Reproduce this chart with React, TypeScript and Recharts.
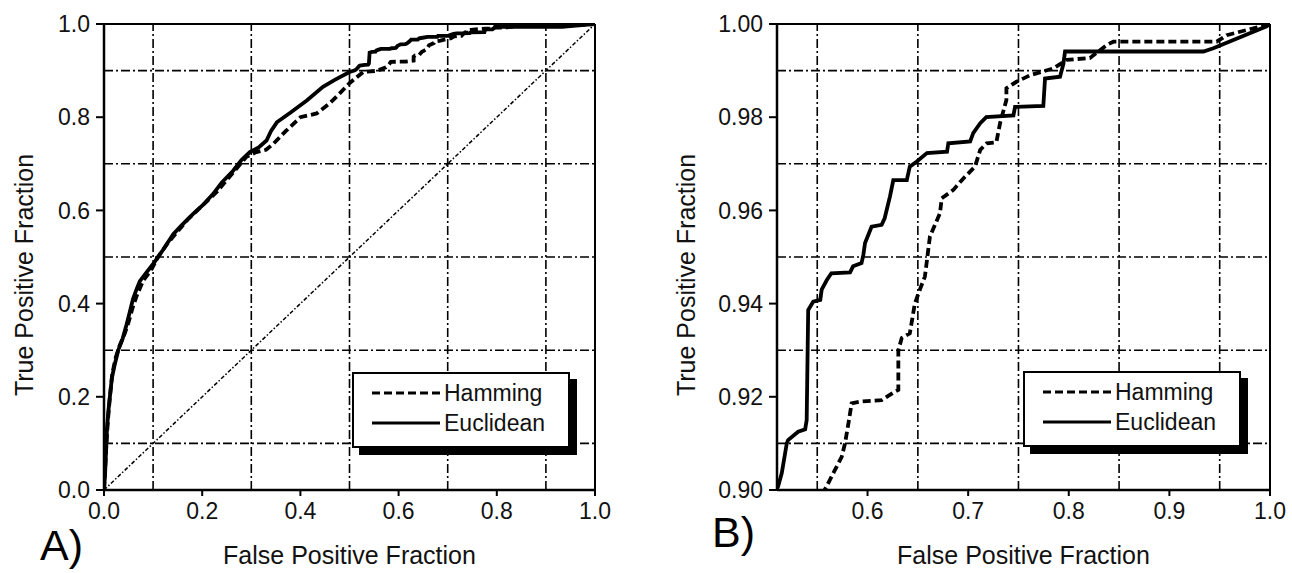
import React from "react"
import { LineChart, Line, XAxis, YAxis, ReferenceLine, Legend, Label } from "recharts"

const FONT = '"Liberation Sans", Arial, sans-serif'

// ROC points [false positive fraction, true positive fraction]
const euclidean: [number, number][] = [
  [0, 0], [0.002, 0.03], [0.004, 0.08], [0.006, 0.13], [0.009, 0.17], [0.012, 0.2], [0.016, 0.24],
  [0.022, 0.27], [0.029, 0.3], [0.038, 0.325], [0.046, 0.355], [0.052, 0.38], [0.059, 0.41],
  [0.066, 0.43], [0.073, 0.448], [0.085, 0.465], [0.1, 0.485], [0.12, 0.515], [0.141, 0.549],
  [0.16, 0.57], [0.181, 0.592], [0.2, 0.61], [0.222, 0.635], [0.24, 0.66], [0.263, 0.685],
  [0.28, 0.708], [0.297, 0.725], [0.315, 0.735], [0.331, 0.75], [0.34, 0.77], [0.352, 0.789],
  [0.38, 0.81], [0.413, 0.836], [0.446, 0.865], [0.47, 0.88], [0.5, 0.897],
  [0.511, 0.9007], [0.5147, 0.9036], [0.5197, 0.91], [0.521, 0.9107], [0.531, 0.9125], [0.538, 0.913],
  [0.5395, 0.915], [0.541, 0.9386], [0.546, 0.9404], [0.553, 0.9408], [0.5544, 0.943], [0.5594, 0.945],
  [0.564, 0.9465], [0.5826, 0.9467], [0.5856, 0.948], [0.594, 0.9487], [0.5958, 0.9504], [0.5975, 0.953],
  [0.604, 0.9565], [0.614, 0.9569], [0.617, 0.9583], [0.6223, 0.963], [0.6256, 0.9665], [0.639, 0.9665],
  [0.642, 0.9694], [0.649, 0.9705], [0.659, 0.9723], [0.679, 0.9726], [0.6803, 0.9744], [0.702, 0.9748],
  [0.705, 0.9766], [0.712, 0.9787], [0.718, 0.98], [0.745, 0.9804], [0.7466, 0.9822], [0.7747, 0.9824],
  [0.7764, 0.9883], [0.7913, 0.9887], [0.7946, 0.9914], [0.7963, 0.9941], [0.9338, 0.9941],
  [0.9437, 0.9948], [0.9967, 0.9995], [1, 1],
]

const hamming: [number, number][] = [
  [0, 0], [0.002, 0.04], [0.005, 0.1], [0.008, 0.15], [0.012, 0.2], [0.017, 0.25], [0.024, 0.285],
  [0.032, 0.31], [0.042, 0.335], [0.05, 0.36], [0.058, 0.39], [0.066, 0.415], [0.072, 0.43],
  [0.08, 0.45], [0.095, 0.47], [0.11, 0.5], [0.13, 0.53], [0.15, 0.555], [0.17, 0.58], [0.19, 0.6],
  [0.21, 0.62], [0.23, 0.64], [0.25, 0.665], [0.27, 0.69], [0.29, 0.715], [0.31, 0.725], [0.33, 0.73],
  [0.345, 0.743], [0.37, 0.77], [0.4, 0.8], [0.433, 0.808], [0.46, 0.83], [0.48, 0.851], [0.5, 0.873],
  [0.528, 0.897], [0.556, 0.8995],
  [0.561, 0.9015], [0.5676, 0.9043], [0.5743, 0.9071], [0.5776, 0.91], [0.581, 0.9143], [0.5842, 0.9186],
  [0.594, 0.919], [0.614, 0.9193], [0.6256, 0.9209], [0.6306, 0.9215], [0.6306, 0.93], [0.634, 0.9326],
  [0.642, 0.9336], [0.647, 0.94], [0.652, 0.943], [0.657, 0.9458], [0.662, 0.9544], [0.672, 0.9594],
  [0.6737, 0.9626], [0.6853, 0.9644], [0.695, 0.9668], [0.7068, 0.9694], [0.712, 0.973], [0.7184, 0.9744],
  [0.728, 0.9746], [0.7317, 0.9787], [0.738, 0.9837], [0.738, 0.9862], [0.748, 0.9876], [0.7615, 0.989],
  [0.785, 0.9905], [0.798, 0.9923], [0.8211, 0.9927], [0.8377, 0.9955], [0.8443, 0.9962], [0.947, 0.9962],
  [0.957, 0.9976], [1, 1],
]

const chance: [number, number][] = [[0, 0], [1, 1]]

const aTicks = [0, 0.2, 0.4, 0.6, 0.8, 1.0]
const aGrid = [0.1, 0.3, 0.5, 0.7, 0.9]
const bXTicks = [0.6, 0.7, 0.8, 0.9, 1.0]
const bXGrid = [0.55, 0.65, 0.75, 0.85, 0.95]
const bYTicks = [0.9, 0.92, 0.94, 0.96, 0.98, 1.0]
const bYGrid = [0.91, 0.93, 0.95, 0.97, 0.99]

const series = [
  { name: "Hamming", points: hamming, dash: "8 4" },
  { name: "Euclidean", points: euclidean, dash: undefined as string | undefined },
]

const toRows = (pts: [number, number][]) => pts.map(([x, y]) => ({ x, y }))

const GRID_DASH = "9 3 2 3"

function LegendBox() {
  return (
    <div style={{ width: 218, height: 76, boxSizing: "border-box", border: "2px solid #000", background: "#fff", boxShadow: "7px 7px 0 #000" }}>
      <svg width={214} height={72}>
        {series.map((s, i) => (
          <g key={s.name}>
            <line x1={18} x2={86} y1={19 + i * 30} y2={19 + i * 30} stroke="#000" strokeWidth={3} strokeDasharray={s.dash} />
            <text x={90} y={27 + i * 30} fontSize={23} fontFamily={FONT} fill="#111">{s.name}</text>
          </g>
        ))}
      </svg>
    </div>
  )
}

type PanelProps = {
  width: number
  yAxisWidth: number
  marginRight: number
  xDomain: [number, number]
  yDomain: [number, number]
  xTicks: number[]
  yTicks: number[]
  xGrid: number[]
  yGrid: number[]
  yDigits: number
  diagonal: boolean
  letter: string
  letterX: number
  letterY: number
  yLabelX: number
  legendLeft: number
  legendTop: number
}

function Panel(p: PanelProps) {
  const plotLeft = p.yAxisWidth
  const plotRight = p.width - p.marginRight
  const xCenter = (plotLeft + plotRight) / 2
  return (
    <LineChart width={p.width} height={573} margin={{ top: 24, right: p.marginRight, bottom: 43, left: 0 }}>
      <XAxis
        dataKey="x"
        type="number"
        domain={p.xDomain}
        ticks={p.xTicks}
        interval={0}
        allowDataOverflow
        tickFormatter={(v: number) => v.toFixed(1)}
        tickSize={6}
        tickMargin={7}
        height={40}
        axisLine={{ stroke: "#000", strokeWidth: 2.5 }}
        tickLine={{ stroke: "#000", strokeWidth: 2 }}
        tick={{ fill: "#111", fontSize: 23, fontFamily: FONT }}
      >
        <Label
          content={() => (
            <g>
              <text x={xCenter} y={564} textAnchor="middle" fontSize={25} fontFamily={FONT} fill="#111">False Positive Fraction</text>
              <text x={p.letterX} y={p.letterY} fontSize={43} fontFamily={FONT} fill="#000">{p.letter}</text>
            </g>
          )}
        />
      </XAxis>
      <YAxis
        type="number"
        domain={p.yDomain}
        ticks={p.yTicks}
        interval={0}
        allowDataOverflow
        tickFormatter={(v: number) => v.toFixed(p.yDigits)}
        width={p.yAxisWidth}
        tickSize={8}
        tickMargin={6}
        axisLine={{ stroke: "#000", strokeWidth: 2.5 }}
        tickLine={{ stroke: "#000", strokeWidth: 2 }}
        tick={{ fill: "#111", fontSize: 23, fontFamily: FONT }}
      >
        <Label
          content={() => (
            <text x={p.yLabelX} y={275} transform={`rotate(-90 ${p.yLabelX} 275)`} textAnchor="middle" fontSize={25} fontFamily={FONT} fill="#111">
              True Positive Fraction
            </text>
          )}
        />
      </YAxis>
      {p.xGrid.map((v) => (
        <ReferenceLine key={`gx${v}`} x={v} stroke="#000" strokeWidth={1.6} strokeDasharray={GRID_DASH} />
      ))}
      {p.yGrid.map((v) => (
        <ReferenceLine key={`gy${v}`} y={v} stroke="#000" strokeWidth={1.6} strokeDasharray={GRID_DASH} />
      ))}
      <ReferenceLine y={p.yDomain[1]} stroke="#000" strokeWidth={2} />
      <ReferenceLine x={p.xDomain[1]} stroke="#000" strokeWidth={2} />
      {p.diagonal && (
        <Line
          data={toRows(chance)}
          dataKey="y"
          stroke="#000"
          strokeWidth={1.5}
          strokeDasharray="4 2 1.5 2"
          dot={false}
          legendType="none"
          isAnimationActive={false}
        />
      )}
      {series.map((s) => (
        <Line
          key={s.name}
          name={s.name}
          data={toRows(s.points)}
          dataKey="y"
          type="linear"
          stroke="#000"
          strokeWidth={3.8}
          strokeDasharray={s.dash}
          dot={false}
          isAnimationActive={false}
        />
      ))}
      <Legend
        layout="vertical"
        align="center"
        verticalAlign="middle"
        content={() => <LegendBox />}
        wrapperStyle={{ left: p.legendLeft, top: p.legendTop, width: 226, height: 84 }}
      />
    </LineChart>
  )
}

export default function App() {
  return (
    <div style={{ position: "absolute", left: 0, top: 0, width: 1292, height: 573, background: "#fff" }}>
      <div style={{ position: "absolute", left: 0, top: 0 }}>
        <Panel
          width={640}
          yAxisWidth={104}
          marginRight={45}
          xDomain={[0, 1]}
          yDomain={[0, 1]}
          xTicks={aTicks}
          yTicks={aTicks}
          xGrid={aGrid}
          yGrid={aGrid}
          yDigits={1}
          diagonal
          letter="A)"
          letterX={40}
          letterY={560}
          yLabelX={33}
          legendLeft={352}
          legendTop={372}
        />
      </div>
      <div style={{ position: "absolute", left: 640, top: 0 }}>
        <Panel
          width={652}
          yAxisWidth={137}
          marginRight={22}
          xDomain={[0.51, 1]}
          yDomain={[0.9, 1]}
          xTicks={bXTicks}
          yTicks={bYTicks}
          xGrid={bXGrid}
          yGrid={bYGrid}
          yDigits={2}
          diagonal={false}
          letter="B)"
          letterX={72}
          letterY={547}
          yLabelX={55}
          legendLeft={383}
          legendTop={371}
        />
      </div>
    </div>
  )
}
